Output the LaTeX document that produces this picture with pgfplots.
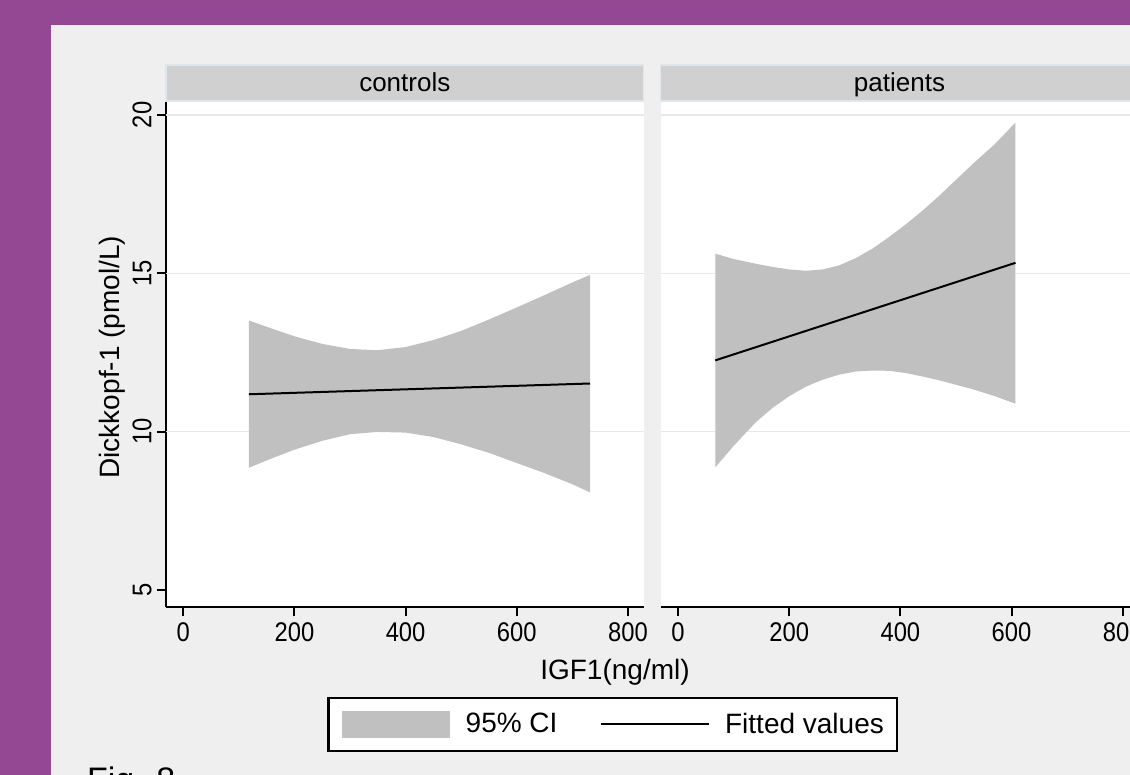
\documentclass[border=0pt]{standalone}
\usepackage{pgfplots}
\pgfplotsset{compat=1.18}
\usepackage{fontspec}
\setmainfont{Liberation Sans}
\newfontfamily\tickfont{Liberation Sans}[FakeStretch=0.88]

\definecolor{stpurple}{RGB}{148,71,146}
\definecolor{stbg}{RGB}{239,239,239}
\definecolor{ststrip}{RGB}{208,208,208}
\definecolor{stband}{RGB}{192,192,192}
\definecolor{stgrid}{RGB}{230,233,234}
\definecolor{stedge}{RGB}{220,232,236}

\pgfplotsset{
 panel/.style={
  scale only axis, width=238.75pt, height=253.15pt,
  xmin=-31, xmax=828, ymin=4.454, ymax=20.44,
  xtick={0,200,400,600,800}, ytick={5,10,15,20},
  axis background/.style={fill=white},
  axis x line*=bottom, axis y line*=left,
  axis line style={line width=1pt, black, -},
  tick align=outside, major tick length=4.5pt,
  tick style={line width=1pt, black},
  extra y ticks={10,15,20}, extra y tick labels={},
  extra y tick style={grid=major, major tick length=0pt, tick style={draw=none}},
  major grid style={line width=0.75pt, stgrid},
  /pgf/number format/assume math mode=true,
  ticklabel style={font=\tickfont\fontsize{13.5}{14}\selectfont},
  xticklabel style={anchor=north, inner sep=3pt},
  yticklabel style={rotate=90, anchor=south, inner sep=2.5pt},
 }
}

\begin{document}
\begin{tikzpicture}[x=1pt,y=1pt]
\fill[stpurple] (0,0) rectangle (565,387.5);
\fill[stbg] (25.35,0) rectangle (570,375);

% left panel: controls
\begin{axis}[panel, at={(83pt,83.85pt)}, anchor=south west,
  legend columns=2,
  legend style={at={(axis description cs:0.3378,-0.1766)}, anchor=north west,
    draw=black, line width=1.1pt, fill=white,
    font=\fontsize{14}{16}\selectfont,
    inner xsep=6.7pt, inner ysep=6.5pt,
    nodes={inner sep=0pt, anchor=west},
    /tikz/every odd column/.append style={column sep=7.8pt},
    /tikz/every even column/.append style={column sep=21pt}},
  ylabel={Dickkopf-1 (pmol/L)},
  ylabel style={at={(axis description cs:-0.1131,0.494)}, anchor=center, font=\fontsize{14}{16}\selectfont},
  xlabel={IGF1(ng/ml)},
  xlabel style={at={(axis description cs:0.9403,-0.1278)}, anchor=center, font=\fontsize{14}{16}\selectfont},
]
\addplot[fill=stband, draw=none,
  legend image code/.code={\fill[stband] (0pt,-6.8pt) rectangle (54.15pt,6.8pt);}]
  coordinates {
  (118,13.51) (160,13.25) (200,13.01) (250,12.77) (300,12.61) (349,12.57) (400,12.67)
  (450,12.89) (500,13.18) (550,13.54) (600,13.92) (650,14.31) (700,14.71) (732,14.95)
  (732,8.08) (700,8.34) (650,8.69) (600,9.01) (550,9.33) (500,9.60)
  (450,9.83) (400,9.97) (349,9.99) (300,9.92) (250,9.71) (200,9.43) (160,9.16) (118,8.86)
  } -- cycle;
\addlegendentry{95\% CI}
\addplot[black, line width=1pt,
  legend image code/.code={\draw[black, line width=1pt] (0pt,0pt) -- (54pt,0pt);}]
  coordinates {(118,11.18) (732,11.52)};
\addlegendentry{Fitted values}
\end{axis}

% right panel: patients
\begin{axis}[panel, at={(330.4pt,83.85pt)}, anchor=south west,
  yticklabels={}, y axis line style={draw=none}, ytick style={draw=none}]
\addplot[fill=stband, draw=none]
  coordinates {
  (67,15.62) (100,15.45) (140,15.30) (170,15.20) (200,15.12) (230,15.08) (260,15.12)
  (290,15.25) (320,15.48) (350,15.78) (380,16.15) (410,16.55) (440,16.98) (470,17.45)
  (500,17.95) (530,18.45) (570,19.08) (607,19.76)
  (607,10.88) (570,11.12) (530,11.34) (500,11.48) (470,11.62) (440,11.74) (410,11.85)
  (380,11.92) (350,11.93) (320,11.90) (290,11.80) (260,11.64) (230,11.42) (200,11.12)
  (170,10.75) (140,10.30) (100,9.55) (67,8.87)
  } -- cycle;
\addplot[black, line width=1pt] coordinates {(67,12.25) (607,15.33)};
\end{axis}

% facet strips
\fill[ststrip, draw=stedge, line width=0.6pt] (83,337) rectangle (321.75,355);
\fill[ststrip, draw=stedge, line width=0.6pt] (330.4,337) rectangle (575,355);
\node[font=\fontsize{13}{14}\selectfont, anchor=base, inner sep=0pt] at (202.4,341.8) {controls};
\node[font=\fontsize{13}{14}\selectfont, anchor=base, inner sep=0pt] at (449.75,341.8) {patients};

\node[anchor=north west, inner sep=0pt, font=\fontsize{17}{18}\selectfont] at (43.35,4.15) {Fig. 8};

\pgfresetboundingbox
\path[use as bounding box] (0,0) rectangle (565,387.5);
\end{tikzpicture}
\end{document}
